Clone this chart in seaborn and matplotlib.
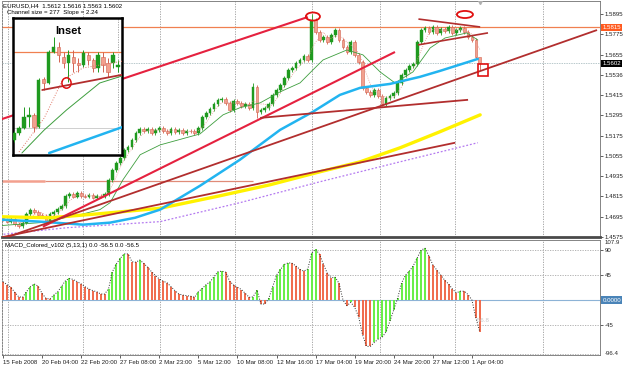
import numpy as np
import pandas as pd
import seaborn as sns
import matplotlib.pyplot as plt
import matplotlib.transforms as mtrans
from matplotlib.patches import Ellipse, Rectangle

sns.set_theme(style="white")
plt.rcParams['font.family'] = ['Liberation Sans', 'DejaVu Sans']

W, H = 625, 368
FS = 4.4

# ---- price data (H4 closes, EURUSD) ----
FIRST_OPEN = 1.4690
CLOSE = [
    1.4678, 1.4666, 1.4683, 1.4654, 1.4642, 1.4660, 1.4713, 1.4737, 1.4725, 1.4707,
    1.4701, 1.4672, 1.4713, 1.4725, 1.4743, 1.4760, 1.4819, 1.4831, 1.4814, 1.4837,
    1.4819, 1.4814, 1.4825, 1.4808, 1.4819, 1.4814, 1.4831, 1.4914, 1.4973, 1.5014,
    1.5044, 1.5091, 1.5109, 1.5150, 1.5192, 1.5215, 1.5204, 1.5215, 1.5192, 1.5209,
    1.5221, 1.5204, 1.5192, 1.5215, 1.5198, 1.5209, 1.5192, 1.5204, 1.5201, 1.5192,
    1.5221, 1.5286, 1.5310, 1.5334, 1.5363, 1.5387, 1.5393, 1.5369, 1.5328, 1.5381,
    1.5369, 1.5351, 1.5363, 1.5340, 1.5464, 1.5316, 1.5328, 1.5340, 1.5363, 1.5416,
    1.5446, 1.5475, 1.5517, 1.5564, 1.5576, 1.5605, 1.5623, 1.5647, 1.5623, 1.5860,
    1.5789, 1.5741, 1.5759, 1.5730, 1.5771, 1.5800, 1.5741, 1.5700, 1.5670, 1.5730,
    1.5653, 1.5611, 1.5458, 1.5434, 1.5416, 1.5446, 1.5410, 1.5363, 1.5399, 1.5410,
    1.5428, 1.5487, 1.5535, 1.5564, 1.5588, 1.5600, 1.5730, 1.5800, 1.5812, 1.5789,
    1.5818, 1.5783, 1.5806, 1.5795, 1.5818, 1.5783, 1.5800, 1.5812, 1.5789, 1.5759,
    1.5741, 1.5641, 1.5602,
]
HIGH_FIX = {79: 1.5895, 64: 1.5485, 122: 1.5616}
LOW_FIX = {65: 1.5280, 122: 1.5563, 4: 1.4630}

MACD = [
    33, 28, 23, 14, 6, 5, 15, 24, 29, 25,
    12, 3, 2, 9, 15, 25, 35, 39, 37, 33,
    29, 24, 20, 17, 15, 11, 11, 20, 51, 65,
    75, 83, 83, 69, 68, 72, 66, 59, 51, 44,
    38, 34, 31, 24, 17, 11, 9, 8, 7, 5,
    15, 21, 28, 33, 42, 51, 52, 50, 34, 27,
    23, 19, 12, 5, 6, 18, -7, -7, 3, 24,
    45, 55, 64, 67, 66, 61, 55, 52, 56, 85,
    91, 82, 64, 48, 40, 41, 30, 0, -10, -4,
    -13, -30, -62, -83, -83, -76, -70, -67, -57, -38,
    -17, 4, 31, 45, 52, 62, 76, 90, 93, 79,
    63, 54, 45, 36, 29, 20, 13, 16, 16, 10,
    0, -32, -56.5,
]

# moving averages read at a few bars (bar index, price)
MA_YELLOW_X = [-0.8, 12.0, 24.8, 40.2, 55.5, 68.3, 81.1, 91.4, 101.6, 111.8, 122.1]
MA_YELLOW_Y = [1.4695, 1.4689, 1.4713, 1.4745, 1.4819, 1.4884, 1.4961, 1.5020, 1.5103, 1.5198, 1.5298]
MA_BLUE_X = [-0.8, 9.5, 20.5, 27.4, 33.8, 40.2, 50.4, 60.6, 70.9, 79.3, 86.2, 91.4, 99.0, 106.7, 111.8, 121.5]
MA_BLUE_Y = [1.4678, 1.4666, 1.4648, 1.4660, 1.4689, 1.4737, 1.4878, 1.5032, 1.5209, 1.5316, 1.5416,
             1.5458, 1.5481, 1.5523, 1.5558, 1.5629]
MA_PURPLE_X = [-0.8, 16.4, 40.2, 60.6, 81.1, 101.6, 121.5]
MA_PURPLE_Y = [1.4589, 1.4630, 1.4666, 1.4778, 1.4902, 1.5020, 1.5133]
MA_GREEN_X = [-0.8, 9.5, 19.7, 24.8, 27.4, 30.7, 35.1, 40.2, 50.4, 56.3, 60.6, 65.8, 70.9, 76.0,
              79.3, 81.9, 88.0, 92.1, 96.5, 100.3, 104.9, 109.3, 113.1, 118.7, 121.5]
MA_GREEN_Y = [1.4642, 1.4660, 1.4707, 1.4737, 1.4778, 1.4914, 1.5062, 1.5120, 1.5185, 1.5298,
              1.5340, 1.5369, 1.5434, 1.5487, 1.5564, 1.5623, 1.5682, 1.5653, 1.5552, 1.5487,
              1.5552, 1.5694, 1.5753, 1.5783, 1.5741]

# trend lines: (x0, y0, x1, y1, colour, width)
TRENDLINES = [
    (-0.8, 1.5269, 78.0, 1.5877, '#E5213F', 1.5),
    (10.2, 1.4636, 100.3, 1.5670, '#E5213F', 1.5),
    (-0.8, 1.4559, 152.0, 1.5800, '#B22E2E', 1.3),
    (65.8, 1.5280, 119.0, 1.5387, '#B22E2E', 1.3),
    (-0.8, 1.4571, 115.7, 1.5133, '#B22E2E', 1.3),
    (106.3, 1.5865, 122.1, 1.5818, '#B22E2E', 1.2),
    (106.2, 1.5712, 124.1, 1.5783, '#B22E2E', 1.2),
]
RESIST = 1.5815
LAST = 1.5602
OLD_LEVEL = 1.4908

PRICE_TICKS = [1.5895, 1.5775, 1.5655, 1.5536, 1.5415, 1.5295, 1.5175, 1.5055, 1.4935, 1.4815, 1.4695, 1.4575]
MACD_GRID = [90, 45, -45, -96.4]
DATE_POS = [0, 10, 20, 30, 40, 50, 60, 70, 80, 90, 100, 110, 120]
DATE_LABELS = ["15 Feb 2008", "20 Feb 04:00", "22 Feb 20:00", "27 Feb 08:00", "2 Mar 23:00",
               "5 Mar 12:00", "10 Mar 08:00", "12 Mar 16:00", "17 Mar 04:00", "19 Mar 20:00",
               "24 Mar 20:00", "27 Mar 12:00", "1 Apr 04:00"]
GRID_BARS = [1.3, 20.5, 40.2, 59.4, 79.1, 96.5, 115.7, 138.2]

# inset (zoom of the top formation)
INSET_OPEN = [1.5595, 1.56125, 1.5625, 1.56525, 1.56575, 1.56275, 1.57475, 1.57375, 1.5815, 1.58275, 1.58025,
              1.57875, 1.58025, 1.57875, 1.57825, 1.58075, 1.5795, 1.5775, 1.58025, 1.57875, 1.57875, 1.57775]
INSET_HIGH = [1.56175, 1.563, 1.56775, 1.56775, 1.56625, 1.575, 1.57525, 1.582, 1.58525, 1.584, 1.5815,
              1.582, 1.582, 1.58, 1.582, 1.5815, 1.58, 1.5815, 1.5815, 1.58, 1.5815, 1.5795]
INSET_LOW = [1.559, 1.56075, 1.56225, 1.56275, 1.5615, 1.5625, 1.572, 1.5735, 1.58125, 1.579, 1.5775,
             1.574, 1.5765, 1.5765, 1.57775, 1.57825, 1.5765, 1.5765, 1.5765, 1.57525, 1.5775, 1.5765]
INSET_CLOSE = [1.56125, 1.5625, 1.56525, 1.56575, 1.56275, 1.5745, 1.57375, 1.5815, 1.58275, 1.58075, 1.57875,
               1.58075, 1.57875, 1.57825, 1.58125, 1.5795, 1.5775, 1.58075, 1.57825, 1.5765, 1.58075, 1.57825]
INSET_GREEN_X = [1.6, 6.1, 10.6, 17.3, 21.8]
INSET_GREEN_Y = [1.55625, 1.562, 1.567, 1.57375, 1.5755]
INSET_PINK_X = [1.0, 6.1, 9.8, 13.9, 21.8]
INSET_PINK_Y = [1.5565, 1.565, 1.5745, 1.5775, 1.5792]
INSET_BLUE_X = [7.1, 21.8]
INSET_BLUE_Y = [1.55625, 1.5627]

GREEN = '#1F9A1F'
BEAR_FILL = '#F2A08E'
BEAR_EDGE = '#D2624F'
GRIDC = '#9A9A9A'


def draw_candles(axis, x, o, h, l, c, width, lw):
    x, o, h, l, c = map(np.asarray, (x, o, h, l, c))
    up = c >= o
    lo = np.minimum(o, c)
    span = np.maximum(np.abs(c - o), 0.00025)
    axis.vlines(x[up], l[up], h[up], color=GREEN, lw=lw, zorder=3)
    axis.vlines(x[~up], l[~up], h[~up], color=BEAR_EDGE, lw=lw, zorder=3)
    axis.bar(x[up], span[up], bottom=lo[up], width=width, color=GREEN, edgecolor=GREEN, lw=0.3, zorder=3)
    axis.bar(x[~up], span[~up], bottom=lo[~up], width=width, color=BEAR_FILL, edgecolor=BEAR_EDGE,
             lw=0.4, zorder=3)


fig = plt.figure(figsize=(W / 100, H / 100), dpi=100)
fig.patch.set_facecolor('white')


def px_axes(x0, y0, x1, y1):
    return fig.add_axes([x0 / W, 1 - y1 / H, (x1 - x0) / W, (y1 - y0) / H])


def fig_text(x, y, s, **kw):
    fig.text(x / W, 1 - y / H, s, **kw)


ax = px_axes(2, 1, 600, 237)
axm = px_axes(2, 240, 600, 355)

n = len(CLOSE)
idx = np.arange(n)
close = np.array(CLOSE)
opens = np.r_[FIRST_OPEN, close[:-1]]
high = np.maximum(opens, close) + 0.0011
low = np.minimum(opens, close) - 0.0011
for k, v in HIGH_FIX.items():
    high[k] = v
for k, v in LOW_FIX.items():
    low[k] = v

# ---- main price panel ----
for g in GRID_BARS:
    ax.axvline(g, color=GRIDC, lw=0.6, ls=(0, (1.5, 1.5)), zorder=1)
ax.axhline(RESIST, color='#F08050', lw=0.9, zorder=2)
ax.axhline(LAST, color='#B9C9CC', lw=0.7, ls=(0, (1.5, 1)), zorder=2)
ax.hlines(OLD_LEVEL, -0.8, 10.7, color='#F3A08E', lw=1.8, zorder=2)
ax.hlines(OLD_LEVEL, 10.7, 64.0, color='#E08B78', lw=0.9, zorder=2)

draw_candles(ax, idx, opens, high, low, close, 0.7, 0.6)

fast = pd.Series(close).rolling(4, min_periods=1).mean()
sns.lineplot(x=idx, y=fast.values, ax=ax, color='#E8928A', lw=0.6, ls=':', zorder=4)
sns.lineplot(x=MA_GREEN_X, y=MA_GREEN_Y, ax=ax, color='#3E9E3E', lw=0.6, zorder=4)
sns.lineplot(x=MA_PURPLE_X, y=MA_PURPLE_Y, ax=ax, color='#B47AF0', lw=0.9, ls=(0, (1.5, 1.5)), zorder=4)
sns.lineplot(x=MA_YELLOW_X, y=MA_YELLOW_Y, ax=ax, color='#FFF200', lw=2.4, zorder=4)
sns.lineplot(x=MA_BLUE_X, y=MA_BLUE_Y, ax=ax, color='#22B4F0', lw=1.8, zorder=4)

for x0, y0, x1, y1, col, lw in TRENDLINES:
    ax.plot([x0, x1], [y0, y1], color=col, lw=lw, zorder=5, solid_capstyle='butt')

ax.add_patch(Ellipse((79.3, 1.5880), 3.6, 0.0048, fill=False, ec='#E01010', lw=1.3, zorder=6))
ax.add_patch(Ellipse((118.2, 1.5892), 4.1, 0.0042, fill=False, ec='#E01010', lw=1.3, zorder=6))
ax.add_patch(Rectangle((121.5, 1.5529), 2.56, 0.0071, fill=False, ec='#E01010', lw=1.2, zorder=6))
ax.plot([122.1], [1.5965], marker='v', ms=3, color='#B0B0B0', zorder=6)

ax.set_xlim(-0.256, 152.76)
ax.set_ylim(1.457707, 1.597183)
ax.yaxis.tick_right()
ax.set_yticks(PRICE_TICKS)
ax.set_yticklabels([f"{v:.4f}" for v in PRICE_TICKS], fontsize=FS)
ax.set_xticks([])
ax.tick_params(axis='y', length=2, pad=1.5, width=0.5, colors='#202020', right=True)
for side in ('top', 'left', 'right'):
    ax.spines[side].set_color('#707070')
    ax.spines[side].set_linewidth(0.6)
ax.spines['left'].set_linestyle((0, (2, 1.5)))
ax.spines['bottom'].set_color('#4A4A4A')
ax.spines['bottom'].set_linewidth(2.0)

yt = mtrans.blended_transform_factory(ax.transAxes, ax.transData)
ax.text(1.004, RESIST, "1.5815", transform=yt, fontsize=FS, color='white', va='center', ha='left',
        bbox=dict(boxstyle='square,pad=0.2', fc='#FF5A1F', ec='none'), clip_on=False, zorder=10)
ax.text(1.004, LAST, "1.5602", transform=yt, fontsize=FS, color='white', va='center', ha='left',
        bbox=dict(boxstyle='square,pad=0.2', fc='black', ec='none'), clip_on=False, zorder=10)

fig_text(3, 5.5, "EURUSD,H4  1.5612 1.5616 1.5563 1.5602", fontsize=FS, va='center', ha='left', color='black')
fig_text(7, 12.5, "Channel size = 277  Slope = 2.24", fontsize=FS, va='center', ha='left', color='black')

# ---- MACD panel ----
macd = np.array(MACD, dtype=float)
rising = np.r_[False, np.diff(macd) > 0]
cols = np.where(rising, '#66EE44', '#F06A4C')
for g in GRID_BARS:
    axm.axvline(g, color=GRIDC, lw=0.6, ls=(0, (1.5, 1.5)), zorder=1)
for v in MACD_GRID:
    axm.axhline(v, color='#A8A8A8', lw=0.6, ls=(0, (1.5, 1.5)), zorder=1)
axm.axhline(0, color='#8DB3D6', lw=0.8, zorder=2)
axm.vlines(idx, 0, macd, colors=cols, lw=1.4, zorder=3)
sns.lineplot(x=idx, y=macd, ax=axm, color='#303030', lw=0.7, ls=':', zorder=4)
axm.text(121.0, -37, "-56.8", fontsize=FS, color='#C8C8C8', ha='left', va='center')

axm.set_xlim(-0.256, 152.76)
axm.set_ylim(-98.5, 107.9)
axm.yaxis.tick_right()
axm.set_yticks([90, 45, -45])
axm.set_yticklabels(["90", "45", "-45"], fontsize=FS)
axm.tick_params(axis='y', length=2, pad=1.5, width=0.5, colors='#202020', right=True)
axm.set_xticks(DATE_POS)
axm.set_xticklabels(DATE_LABELS, fontsize=FS, ha='left')
axm.tick_params(axis='x', length=2, pad=1.5, width=0.5, colors='#202020', bottom=True)
for side in ('top', 'left', 'right', 'bottom'):
    axm.spines[side].set_color('#707070')
    axm.spines[side].set_linewidth(0.6)
axm.spines['left'].set_linestyle((0, (2, 1.5)))

ymt = mtrans.blended_transform_factory(axm.transAxes, axm.transData)
axm.text(1.008, 107.9, "107.9", transform=ymt, fontsize=FS, va='top', ha='left', clip_on=False)
axm.text(1.008, -95, "-96.4", transform=ymt, fontsize=FS, va='center', ha='left', clip_on=False)
axm.text(1.004, 0, "0.0000", transform=ymt, fontsize=FS, color='white', va='center', ha='left',
         bbox=dict(boxstyle='square,pad=0.2', fc='#4A84B8', ec='none'), clip_on=False, zorder=10)
fig_text(5, 245.5, "MACD_Colored_v102 (5,13,1) 0.0 -56.5 0.0 -56.5", fontsize=FS, va='center', ha='left',
         color='black')

# ---- inset ----
axi = px_axes(13, 18, 122, 155)
axi.set_facecolor('white')
ii = np.arange(len(INSET_CLOSE))
axi.axhline(RESIST, color='#F08050', lw=0.9, zorder=2)
axi.axhline(1.5625, color='#C8C8C8', lw=0.6, zorder=2)
axi.axvline(21.0, color=GRIDC, lw=0.6, ls=(0, (1.5, 1.5)), zorder=1)
draw_candles(axi, ii, INSET_OPEN, INSET_HIGH, INSET_LOW, INSET_CLOSE, 0.7, 0.7)
sns.lineplot(x=INSET_PINK_X, y=INSET_PINK_Y, ax=axi, color='#E07A6A', lw=0.7, ls=':', zorder=4)
sns.lineplot(x=INSET_GREEN_X, y=INSET_GREEN_Y, ax=axi, color='#3E9E3E', lw=0.7, zorder=4)
sns.lineplot(x=INSET_BLUE_X, y=INSET_BLUE_Y, ax=axi, color='#22B4F0', lw=1.8, zorder=4)
axi.plot([5.7, 21.8], [1.5720, 1.5758], color='#B22E2E', lw=1.3, zorder=5)
axi.add_patch(Ellipse((10.6, 1.57375), 1.85, 0.0026, fill=False, ec='#E01010', lw=1.1, zorder=6))
axi.text(0.505, 0.905, "Inset", transform=axi.transAxes, fontsize=8, fontweight='bold',
         ha='center', va='center', color='black')
axi.set_xlim(-0.2, 21.8)
axi.set_ylim(1.55575, 1.5900)
axi.set_xticks([])
axi.set_yticks([])
for side in axi.spines.values():
    side.set_color('black')
    side.set_linewidth(1.8)

fig.savefig("out.png", dpi=100, facecolor='white')
